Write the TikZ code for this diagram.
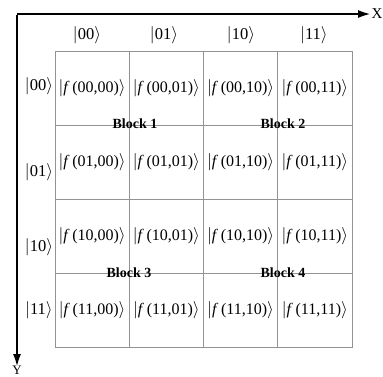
\documentclass[tikz,border=0pt]{standalone}
\usepackage{fontspec}
\setmainfont{Liberation Serif}
\usetikzlibrary{arrows.meta}
\newcommand\myket[1]{$\big|$#1$\big\rangle$}
\begin{document}
\begin{tikzpicture}[x=1pt,y=-1pt,
  cell/.style={draw=gray!85, line width=0.8pt, minimum width=74.25pt, minimum height=74pt, inner sep=0pt, font=\fontsize{16}{19}\selectfont},
  lbl/.style={inner sep=0pt, font=\fontsize{16.5}{19}\selectfont},
  blk/.style={inner sep=0pt, font=\fontsize{14}{16}\selectfont\bfseries},
  axis/.style={line width=1.1pt, -{Latex[length=12pt,width=8pt]}}]
\useasboundingbox (0,0) rectangle (383,376);
% cells
\foreach \r/\rl [count=\i from 0] in {00,01,10,11}{
  \foreach \c [count=\j from 0] in {00,01,10,11}{
    \node[cell] (c\r\c) at ({55+74.25*\j+37.125},{51+74*\i+37}) {\myket{\textit{f}\,(\r,\c)}};
  }
}
% column headers
\node[lbl] (h00) at (87,35) {\myket{00}};
\node[lbl] (h01) at (164,35) {\myket{01}};
\node[lbl] (h10) at (241,35) {\myket{10}};
\node[lbl] (h11) at (314,35) {\myket{11}};
% row headers
\node[lbl] (r00) at (39,86) {\myket{00}};
\node[lbl] (r01) at (39,172) {\myket{01}};
\node[lbl] (r10) at (39,247) {\myket{10}};
\node[lbl] (r11) at (39,310) {\myket{11}};
% blocks
\node[blk] (b1) at (135,124) {Block 1};
\node[blk] (b2) at (283,124) {Block 2};
\node[blk] (b3) at (129,273) {Block 3};
\node[blk] (b4) at (283,273) {Block 4};
% axes
\coordinate (o) at (17,14);
\coordinate (xe) at (370,14);
\coordinate (ye) at (17,366);
\draw[axis] (o) -- (xe);
\draw[axis] ([yshift=-0.55pt]o) -- (ye);
\node[lbl, font=\fontsize{15}{16}\selectfont] (X) at (377,14) {X};
\node[lbl, font=\fontsize{13}{14}\selectfont] (Y) at (17,370) {Y};
\end{tikzpicture}
\end{document}
